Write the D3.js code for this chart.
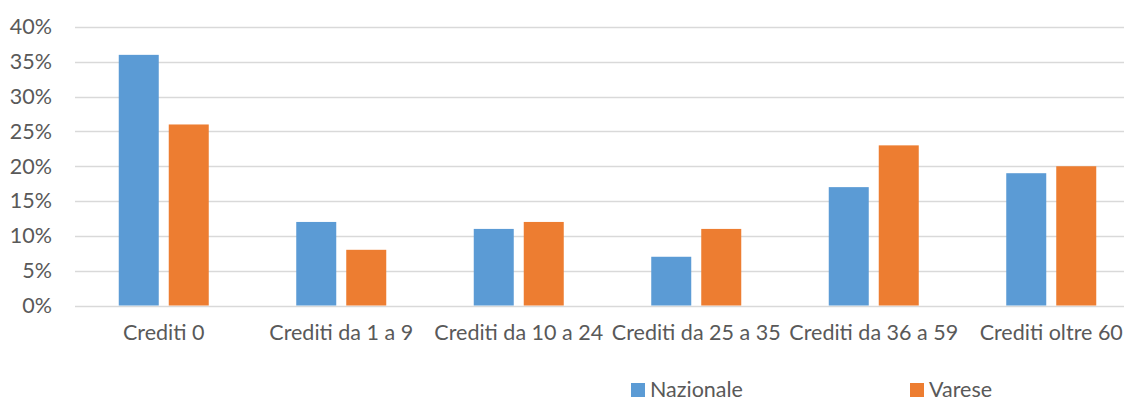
<!DOCTYPE html>
<html>
<head>
<meta charset="utf-8">
<script src="https://cdn.jsdelivr.net/npm/d3@7"></script>
<style>
  body { margin: 0; background: #fff; }
  svg { display: block; font-family: Lato, sans-serif; }
</style>
</head>
<body>
<div id="chart"></div>
<script>
var categories = ["Crediti 0", "Crediti da 1 a 9", "Crediti da 10 a 24", "Crediti da 25 a 35", "Crediti da 36 a 59", "Crediti oltre 60"];
var seriesNames = ["Nazionale", "Varese"];
var nazionale = [36, 12, 11, 7, 17, 19];
var varese = [26, 8, 12, 11, 23, 20];
var yTicks = [0, 5, 10, 15, 20, 25, 30, 35, 40];

var colors = ["#5b9bd5", "#ed7d31"];
var width = 1124, height = 403;
var fontSize = '21.5px';

var svg = d3.select('#chart').append('svg')
    .attr('width', width)
    .attr('height', height);

var yScale = d3.scaleLinear()
    .domain([0, 40])
    .range([305.5, 27]);

var xScale = d3.scaleBand()
    .domain(categories)
    .range([75, 75 + 6 * 177.5]);

var xInner = d3.scaleBand()
    .domain(seriesNames)
    .range([xScale.bandwidth() / 2 - 45, xScale.bandwidth() / 2 + 45])
    .paddingInner(0.2);

// gridlines
svg.append('g').selectAll('line').data(yTicks)
  .enter().append('line')
    .attr('x1', 75)
    .attr('x2', width)
    .attr('y1', function (d) { return Math.round(yScale(d)) + 0.5; })
    .attr('y2', function (d) { return Math.round(yScale(d)) + 0.5; })
    .attr('stroke', '#d9d9d9')
    .attr('stroke-width', 1.3);

// y labels
var yAxis = d3.axisLeft(yScale).tickValues(yTicks)
    .tickFormat(function (d) { return d + '%'; })
    .tickSize(0).tickPadding(0);
var yg = svg.append('g').attr('transform', 'translate(52,0)').call(yAxis);
yg.select('.domain').remove();
yg.selectAll('text').attr('fill', '#595959').style('font-size', fontSize)
    .style('font-family', 'Lato, sans-serif');

// bars
var groups = svg.append('g').selectAll('g').data(categories)
  .enter().append('g')
    .attr('transform', function (d) { return 'translate(' + xScale(d) + ',0)'; });

groups.selectAll('rect')
  .data(function (d, i) {
    return [{ s: seriesNames[0], v: nazionale[i], c: colors[0] },
            { s: seriesNames[1], v: varese[i], c: colors[1] }];
  })
  .enter().append('rect')
    .attr('x', function (d) { return xInner(d.s); })
    .attr('width', xInner.bandwidth())
    .attr('y', function (d) { return yScale(d.v); })
    .attr('height', function (d) { return yScale(0) - yScale(d.v); })
    .attr('fill', function (d) { return d.c; });

// x labels
var xAxis = d3.axisBottom(xScale).tickSize(0).tickPadding(0);
var xg = svg.append('g').attr('transform', 'translate(0,325)').call(xAxis);
xg.select('.domain').remove();
xg.selectAll('text').attr('fill', '#595959').style('font-size', fontSize)
    .style('font-family', 'Lato, sans-serif');

// legend
var legendX = [631, 910];
var legend = svg.append('g').selectAll('g').data(seriesNames)
  .enter().append('g')
    .attr('transform', function (d, i) { return 'translate(' + legendX[i] + ',383)'; });
legend.append('rect')
    .attr('width', 14).attr('height', 14)
    .attr('fill', function (d, i) { return colors[i]; });
legend.append('text')
    .attr('x', 19).attr('y', 14)
    .attr('fill', '#595959')
    .style('font-size', fontSize)
    .text(function (d) { return d; });
</script>
</body>
</html>
